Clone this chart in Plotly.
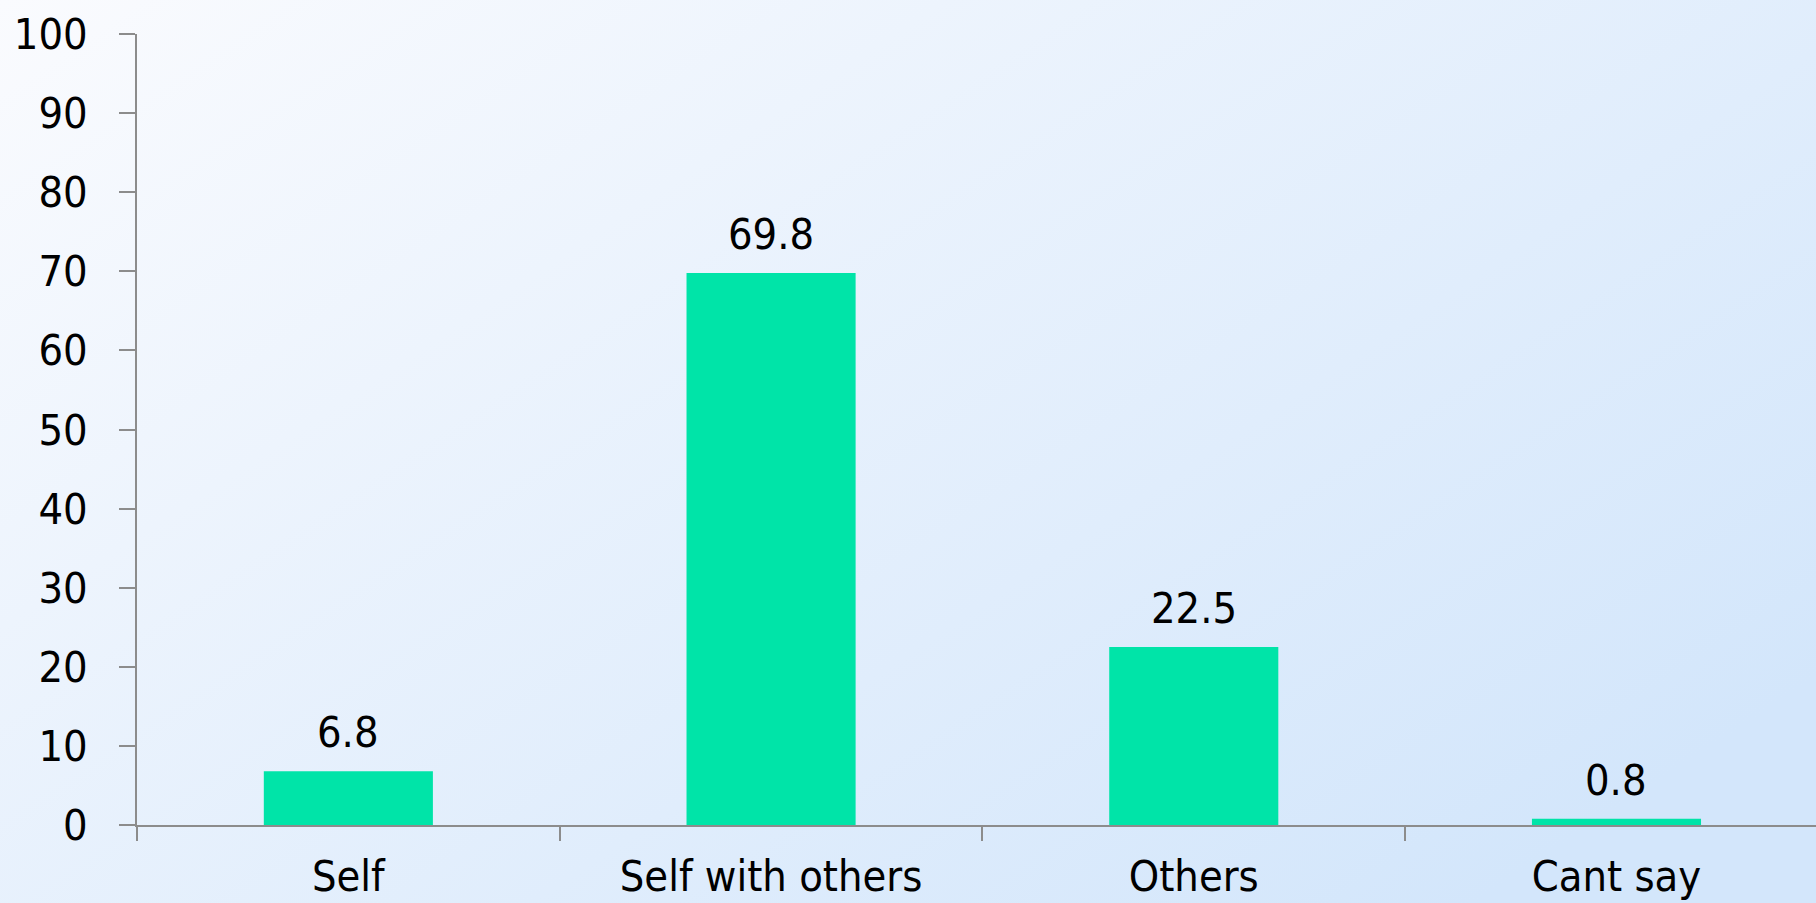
import base64

import plotly.graph_objects as go

# data
categories = ["Self", "Self with others", "Others", "Cant say"]
values = [6.8, 69.8, 22.5, 0.8]
value_labels = ["6.8", "69.8", "22.5", "0.8"]
y_ticks = list(range(0, 101, 10))

W, H = 1816, 903
M = dict(l=137, r=0, t=34, b=78, pad=0)
FONT = "DejaVu Sans Condensed, DejaVu Sans, sans-serif"

# soft diagonal gradient for the page background
svg = (
    '<svg xmlns="http://www.w3.org/2000/svg" width="100" height="100" preserveAspectRatio="none">'
    '<defs><linearGradient id="g" x1="0" y1="0" x2="1" y2="0.75">'
    '<stop offset="0" stop-color="#fafbfe"/><stop offset="1" stop-color="#d3e6fb"/>'
    "</linearGradient></defs>"
    '<rect width="100" height="100" fill="url(#g)"/></svg>'
)
bg_src = "data:image/svg+xml;base64," + base64.b64encode(svg.encode()).decode()

pw = W - M["l"] - M["r"]
ph = H - M["t"] - M["b"]

fig = go.Figure()
fig.add_bar(
    x=categories,
    y=values,
    width=0.4,
    marker=dict(color="#00e4a8", line=dict(width=0)),
    hoverinfo="x+y",
)

# value labels above the bars
for cat, val, lab in zip(categories, values, value_labels):
    fig.add_annotation(
        x=cat, y=val, text=lab,
        showarrow=False, yanchor="bottom", yshift=12,
        font=dict(size=43, color="black", family=FONT),
    )

fig.add_layout_image(
    source=bg_src,
    xref="paper", yref="paper",
    x=-M["l"] / pw, y=1 + M["t"] / ph,
    sizex=W / pw, sizey=H / ph,
    xanchor="left", yanchor="top",
    sizing="stretch", layer="below",
)

fig.update_layout(
    width=W,
    height=H,
    margin=M,
    paper_bgcolor="#e8f1fc",
    plot_bgcolor="rgba(0,0,0,0)",
    showlegend=False,
    font=dict(family=FONT, size=43, color="black"),
)
fig.update_xaxes(
    type="category",
    range=[-0.5, 3.472],
    automargin=False,
    tickson="boundaries",
    ticks="outside",
    ticklen=14,
    tickwidth=1.5,
    tickcolor="#8c8c8c",
    showline=True,
    linecolor="#8c8c8c",
    linewidth=1.5,
    showgrid=False,
    zeroline=False,
    ticklabelstandoff=13,
    tickfont=dict(size=43),
)
fig.update_yaxes(
    range=[0, 100],
    automargin=False,
    tickvals=y_ticks,
    ticks="outside",
    ticklen=16,
    tickwidth=1.5,
    tickcolor="#8c8c8c",
    showline=True,
    linecolor="#8c8c8c",
    linewidth=1.5,
    showgrid=False,
    zeroline=False,
    ticklabelstandoff=23,
    tickfont=dict(size=43),
)

fig.write_html(
    "out.html",
    config={"displayModeBar": False},
    post_script="document.body.style.margin='0';",
)
